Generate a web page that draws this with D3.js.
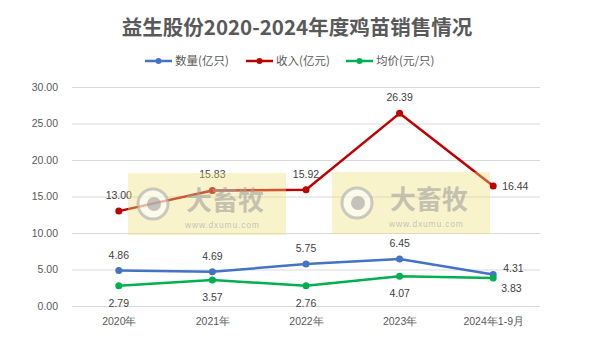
<!DOCTYPE html>
<html><head><meta charset="utf-8">
<script src="https://cdn.jsdelivr.net/npm/d3@7"></script>
<style>body{margin:0;background:#fff}svg{display:block;font-family:"Noto Sans CJK SC","Noto Sans",sans-serif}</style>
</head><body><svg id="c" width="593" height="337"></svg>
<script>
const categories = ["2020年","2021年","2022年","2023年","2024年1-9月"];
const quantity = [4.86, 4.69, 5.75, 6.45, 4.31];
const revenue = [13.00, 15.83, 15.92, 26.39, 16.44];
const price = [2.79, 3.57, 2.76, 4.07, 3.83];
const yTicks = [0, 5, 10, 15, 20, 25, 30];
const seriesNames = ["数量(亿只)", "收入(亿元)", "均价(元/只)"];
const colors = ["#4472C4", "#C00000", "#00B050"];
const title = "益生股份2020-2024年度鸡苗销售情况";

const svg = d3.select("#c");
const x = d3.scalePoint().domain(categories).range([72, 540]).padding(0.5);
const y = d3.scaleLinear().domain([0, 30]).range([306, 87]);

svg.append("text").attr("x", 297).attr("y", 35).attr("text-anchor", "middle")
  .attr("font-size", 20.5).attr("font-weight", "bold").attr("fill", "#595959").text(title);

// legend
const legX = [145, 246, 346];
seriesNames.forEach((n, i) => {
  const g = svg.append("g");
  g.append("line").attr("x1", legX[i]).attr("x2", legX[i] + 27).attr("y1", 61).attr("y2", 61)
    .attr("stroke", colors[i]).attr("stroke-width", 2.5);
  g.append("circle").attr("cx", legX[i] + 13.5).attr("cy", 61).attr("r", 3).attr("fill", colors[i]);
  g.append("text").attr("x", legX[i] + 30).attr("y", 65).attr("font-size", 11.5).attr("fill", "#595959").text(n);
});

// grid + y axis
const yAxis = d3.axisLeft(y).tickValues(yTicks).tickSize(-468).tickFormat(d3.format(".2f"));
const ga = svg.append("g").attr("transform", "translate(72,0)").call(yAxis);
ga.select(".domain").remove();
ga.selectAll(".tick line").attr("stroke", "#d9d9d9");
ga.selectAll(".tick text").attr("x", -14).attr("font-size", 10.5).attr("fill", "#595959")
  .attr("font-family", "'Liberation Sans',sans-serif");

// x axis
const xAxis = d3.axisBottom(x).tickSize(0).tickPadding(10);
const gx = svg.append("g").attr("transform", "translate(0,306)").call(xAxis);
gx.select(".domain").remove();
gx.selectAll(".tick text").attr("font-size", 10.5).attr("fill", "#595959").attr("dy", "0.9em");

const data = [quantity, revenue, price];
const line = d3.line().x((d, i) => x(categories[i])).y(d => y(d));
data.forEach((vals, s) => {
  svg.append("path").datum(vals).attr("d", line).attr("fill", "none")
    .attr("stroke", colors[s]).attr("stroke-width", 2.5).attr("stroke-linejoin", "round");
  svg.selectAll(null).data(vals).enter().append("circle")
    .attr("cx", (d, i) => x(categories[i])).attr("cy", d => y(d)).attr("r", 3.5).attr("fill", colors[s]);
});

// labels
const lab = svg.append("g").attr("font-size", 10.5).attr("fill", "#404040")
  .attr("font-family", "'Liberation Sans',sans-serif");
const last = categories.length - 1;
data.forEach((vals, s) => {
  vals.forEach((v, i) => {
    let lx = x(categories[i]), ly, anchor = "middle";
    if (i === last) {
      anchor = "start";
      if (s === 1) { lx += 9; ly = y(v) + 4; }
      else if (s === 0) { lx += 10; ly = y(v) - 3; }
      else { lx += 8; ly = y(v) + 14; }
    } else if (s === 2) { ly = y(v) + 21; }
    else { ly = y(v) - 12; }
    lab.append("text").attr("x", lx).attr("y", ly).attr("text-anchor", anchor).text(v.toFixed(2));
  });
});

// watermarks
[[128, 173], [332, 172]].forEach(([wx, wy]) => {
  const g = svg.append("g");
  g.append("rect").attr("x", wx).attr("y", wy).attr("width", 158).attr("height", 62)
    .attr("fill", "rgba(238,224,120,0.38)");
  g.append("circle").attr("cx", wx + 25).attr("cy", wy + 31).attr("r", 15)
    .attr("fill", "rgba(255,255,255,0.55)").attr("stroke", "rgba(170,170,170,0.6)").attr("stroke-width", 3);
  g.append("circle").attr("cx", wx + 26).attr("cy", wy + 31).attr("r", 7).attr("fill", "rgba(150,150,150,0.55)");
  g.append("text").attr("x", wx + 58).attr("y", wy + 37).attr("font-size", 26).attr("font-weight", "bold")
    .attr("fill", "rgba(160,160,160,0.6)").text("大畜牧");
  g.append("text").attr("x", wx + 57).attr("y", wy + 55).attr("font-size", 8.5).attr("letter-spacing", 0.8)
    .attr("font-family", "'Liberation Sans',sans-serif")
    .attr("fill", "rgba(160,160,160,0.6)").text("www.dxumu.com");
});
</script></body></html>
